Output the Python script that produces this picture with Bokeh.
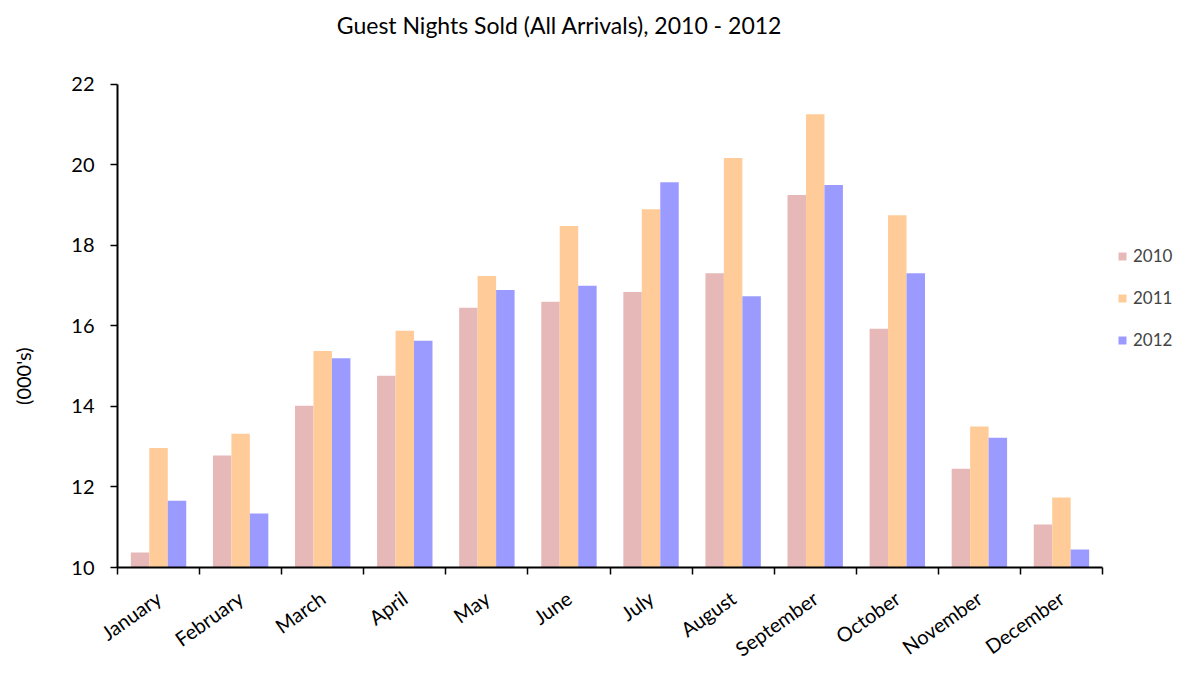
from bokeh.plotting import figure
from bokeh.models import (ColumnDataSource, FixedTicker, Range1d, Legend, LegendItem, Label)
from bokeh.transform import dodge
from bokeh.embed import file_html
from bokeh.resources import INLINE

months = ["January", "February", "March", "April", "May", "June", "July",
          "August", "September", "October", "November", "December"]
y2010 = [10.37, 12.78, 14.02, 14.76, 16.45, 16.60, 16.84, 17.31, 19.25, 15.93, 12.45, 11.07]
y2011 = [12.97, 13.32, 15.38, 15.88, 17.24, 18.48, 18.90, 20.17, 21.26, 18.75, 13.50, 11.74]
y2012 = [11.66, 11.34, 15.20, 15.63, 16.89, 17.00, 19.57, 16.74, 19.50, 17.31, 13.22, 10.45]
series = ["2010", "2011", "2012"]
colors = ["#E6B9B8", "#FFCC99", "#9B9BFF"]
y_ticks = [10, 12, 14, 16, 18, 20, 22]
y_min, y_max = 10, 22

FONT = "Lato"
N = len(months)
# layout in pixels: axis area 117..1102 (x), 84..568 (y); frame extends to the
# right and top canvas edges so that legend and title are not clipped
W, H = 1177, 673
L, R, T, B = 117, 1102, 84, 568
x_end = N * (W - L) / (R - L)
y_end = y_max + (y_max - y_min) * T / (B - T)

pos = [i + 0.5 for i in range(N)]
src = ColumnDataSource(dict(x=pos, m=months, a=y2010, b=y2011, c=y2012))

p = figure(width=W, height=H, output_backend="svg", toolbar_location=None,
           x_range=Range1d(0, x_end), y_range=Range1d(y_min, y_end),
           min_border_left=L, min_border_right=0, min_border_top=0,
           min_border_bottom=H - B)
p.outline_line_color = None
p.xgrid.grid_line_color = None
p.ygrid.grid_line_color = None
p.background_fill_color = "white"
p.border_fill_color = "white"

w = 0.225
renderers = []
for off, col, colr in zip([-w, 0, w], ["a", "b", "c"], colors):
    r = p.vbar(x=dodge("x", off, range=p.x_range), top=col, bottom=y_min, width=w,
               source=src, fill_color=colr, line_color=None)
    renderers.append(r)

# x axis: labels at centers, ticks at category boundaries
xa = p.xaxis[0]
xa.bounds = (0, N)
xa.ticker = FixedTicker(ticks=pos, minor_ticks=list(range(0, N + 1)))
xa.major_label_overrides = {p_: m for p_, m in zip(pos, months)}
xa.major_tick_line_color = None
xa.minor_tick_line_color = "black"
xa.minor_tick_line_width = 1.5
xa.minor_tick_out = 7
xa.minor_tick_in = 0
xa.axis_line_width = 2
xa.axis_line_color = "black"
xa.major_label_orientation = 0.62
xa.major_label_text_font = FONT
xa.major_label_text_font_size = "20px"
xa.major_label_text_line_height = 1.0
xa.major_label_text_color = "black"
xa.major_label_standoff = 21

ya = p.yaxis[0]
ya.bounds = (y_min, y_max)
ya.ticker = FixedTicker(ticks=y_ticks, minor_ticks=[])
ya.major_tick_out = 7
ya.major_tick_in = 0
ya.major_tick_line_width = 1.5
ya.axis_line_width = 2
ya.axis_line_color = "black"
ya.major_label_text_font = FONT
ya.major_label_text_font_size = "20px"
ya.major_label_text_color = "black"
ya.major_label_standoff = 16
# trailing no-break spaces shift the visible title down along the axis
ya.axis_label = "(000's)" + "\u00a0" * 36
ya.axis_label_text_font = FONT
ya.axis_label_text_font_size = "20px"
ya.axis_label_text_font_style = "normal"
ya.axis_label_text_color = "black"
ya.axis_label_standoff = 33

title = Label(x=442, y=B - 25, x_units="screen", y_units="screen",
              text="Guest Nights Sold (All Arrivals), 2010 - 2012",
              text_font=FONT, text_font_size="23px", text_align="center",
              text_baseline="middle", text_color="black")
p.add_layout(title)

legend = Legend(items=[LegendItem(label=s, renderers=[r]) for s, r in zip(series, renderers)],
                location=(1000, 217), orientation="vertical",
                glyph_width=10, glyph_height=10, label_height=20, spacing=21,
                label_standoff=6, padding=0, margin=0,
                label_text_font=FONT, label_text_font_size="17px",
                border_line_color=None, background_fill_alpha=0)
p.add_layout(legend, "center")

open("out.html", "w").write(file_html(p, INLINE))
